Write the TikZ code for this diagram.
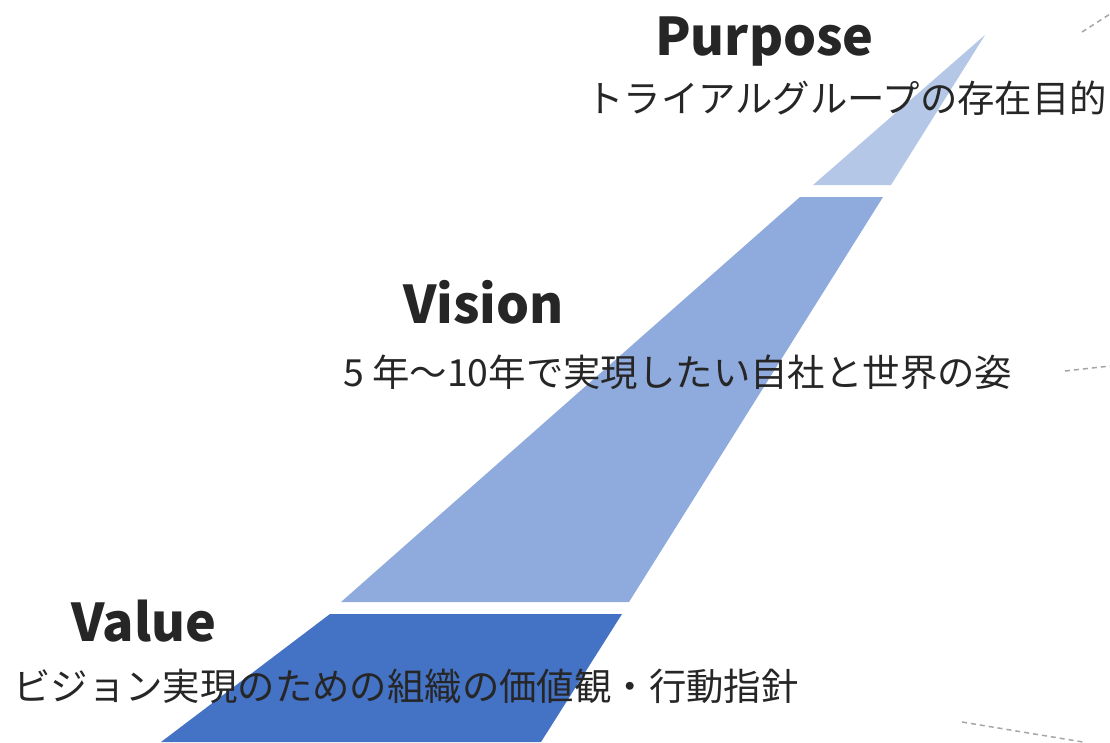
\documentclass[tikz,border=0pt]{standalone}
\usepackage{fontspec}
\newfontfamily\jpfont{Noto Sans CJK JP}
\definecolor{bandA}{HTML}{B4C7E7}
\definecolor{bandB}{HTML}{8FAADC}
\definecolor{bandC}{HTML}{4472C4}
\definecolor{txt}{HTML}{262626}
\definecolor{dashcol}{HTML}{A6A6A6}
\begin{document}
\begin{tikzpicture}[x=1pt,y=-1pt,
  title/.style={font=\jpfont\bfseries\fontsize{52}{58}\selectfont, text=txt, inner sep=0pt, anchor=west},
  sub/.style={font=\jpfont\fontsize{37.4}{40}\selectfont, text=txt, inner sep=0pt, anchor=west},
  guide/.style={draw=dashcol, line width=1.5pt, dash pattern=on 5pt off 4pt}]
\useasboundingbox (0,0) rectangle (1110,742);
% bands
\fill[bandA] (985,35) -- (891,185) -- (813,185) -- cycle;
\fill[bandB] (800,197) -- (883,197) -- (629,602) -- (341,602) -- cycle;
\fill[bandC] (330,614) -- (622,614) -- (541,742) -- (161,742) -- cycle;
% dashed guides
\draw[guide] (1082,32) -- (1110,14);
\draw[guide] (1065,371) -- (1110,366);
\draw[guide] (962,722) -- (1083,742);
% texts
\node[title] (purpose) at (655,42) {Purpose};
\node[sub] (purposesub) at (586,98) {トライアルグループの存在目的};
\node[title] (vision) at (403,302) {Vision};
\node[sub] (visionsub) at (343,372) {5 年～10年で実現したい自社と世界の姿};
\node[title] (value) at (71,621) {Value};
\node[sub] (valuesub) at (13,686) {ビジョン実現のための組織の価値観・行動指針};
\end{tikzpicture}
\end{document}
